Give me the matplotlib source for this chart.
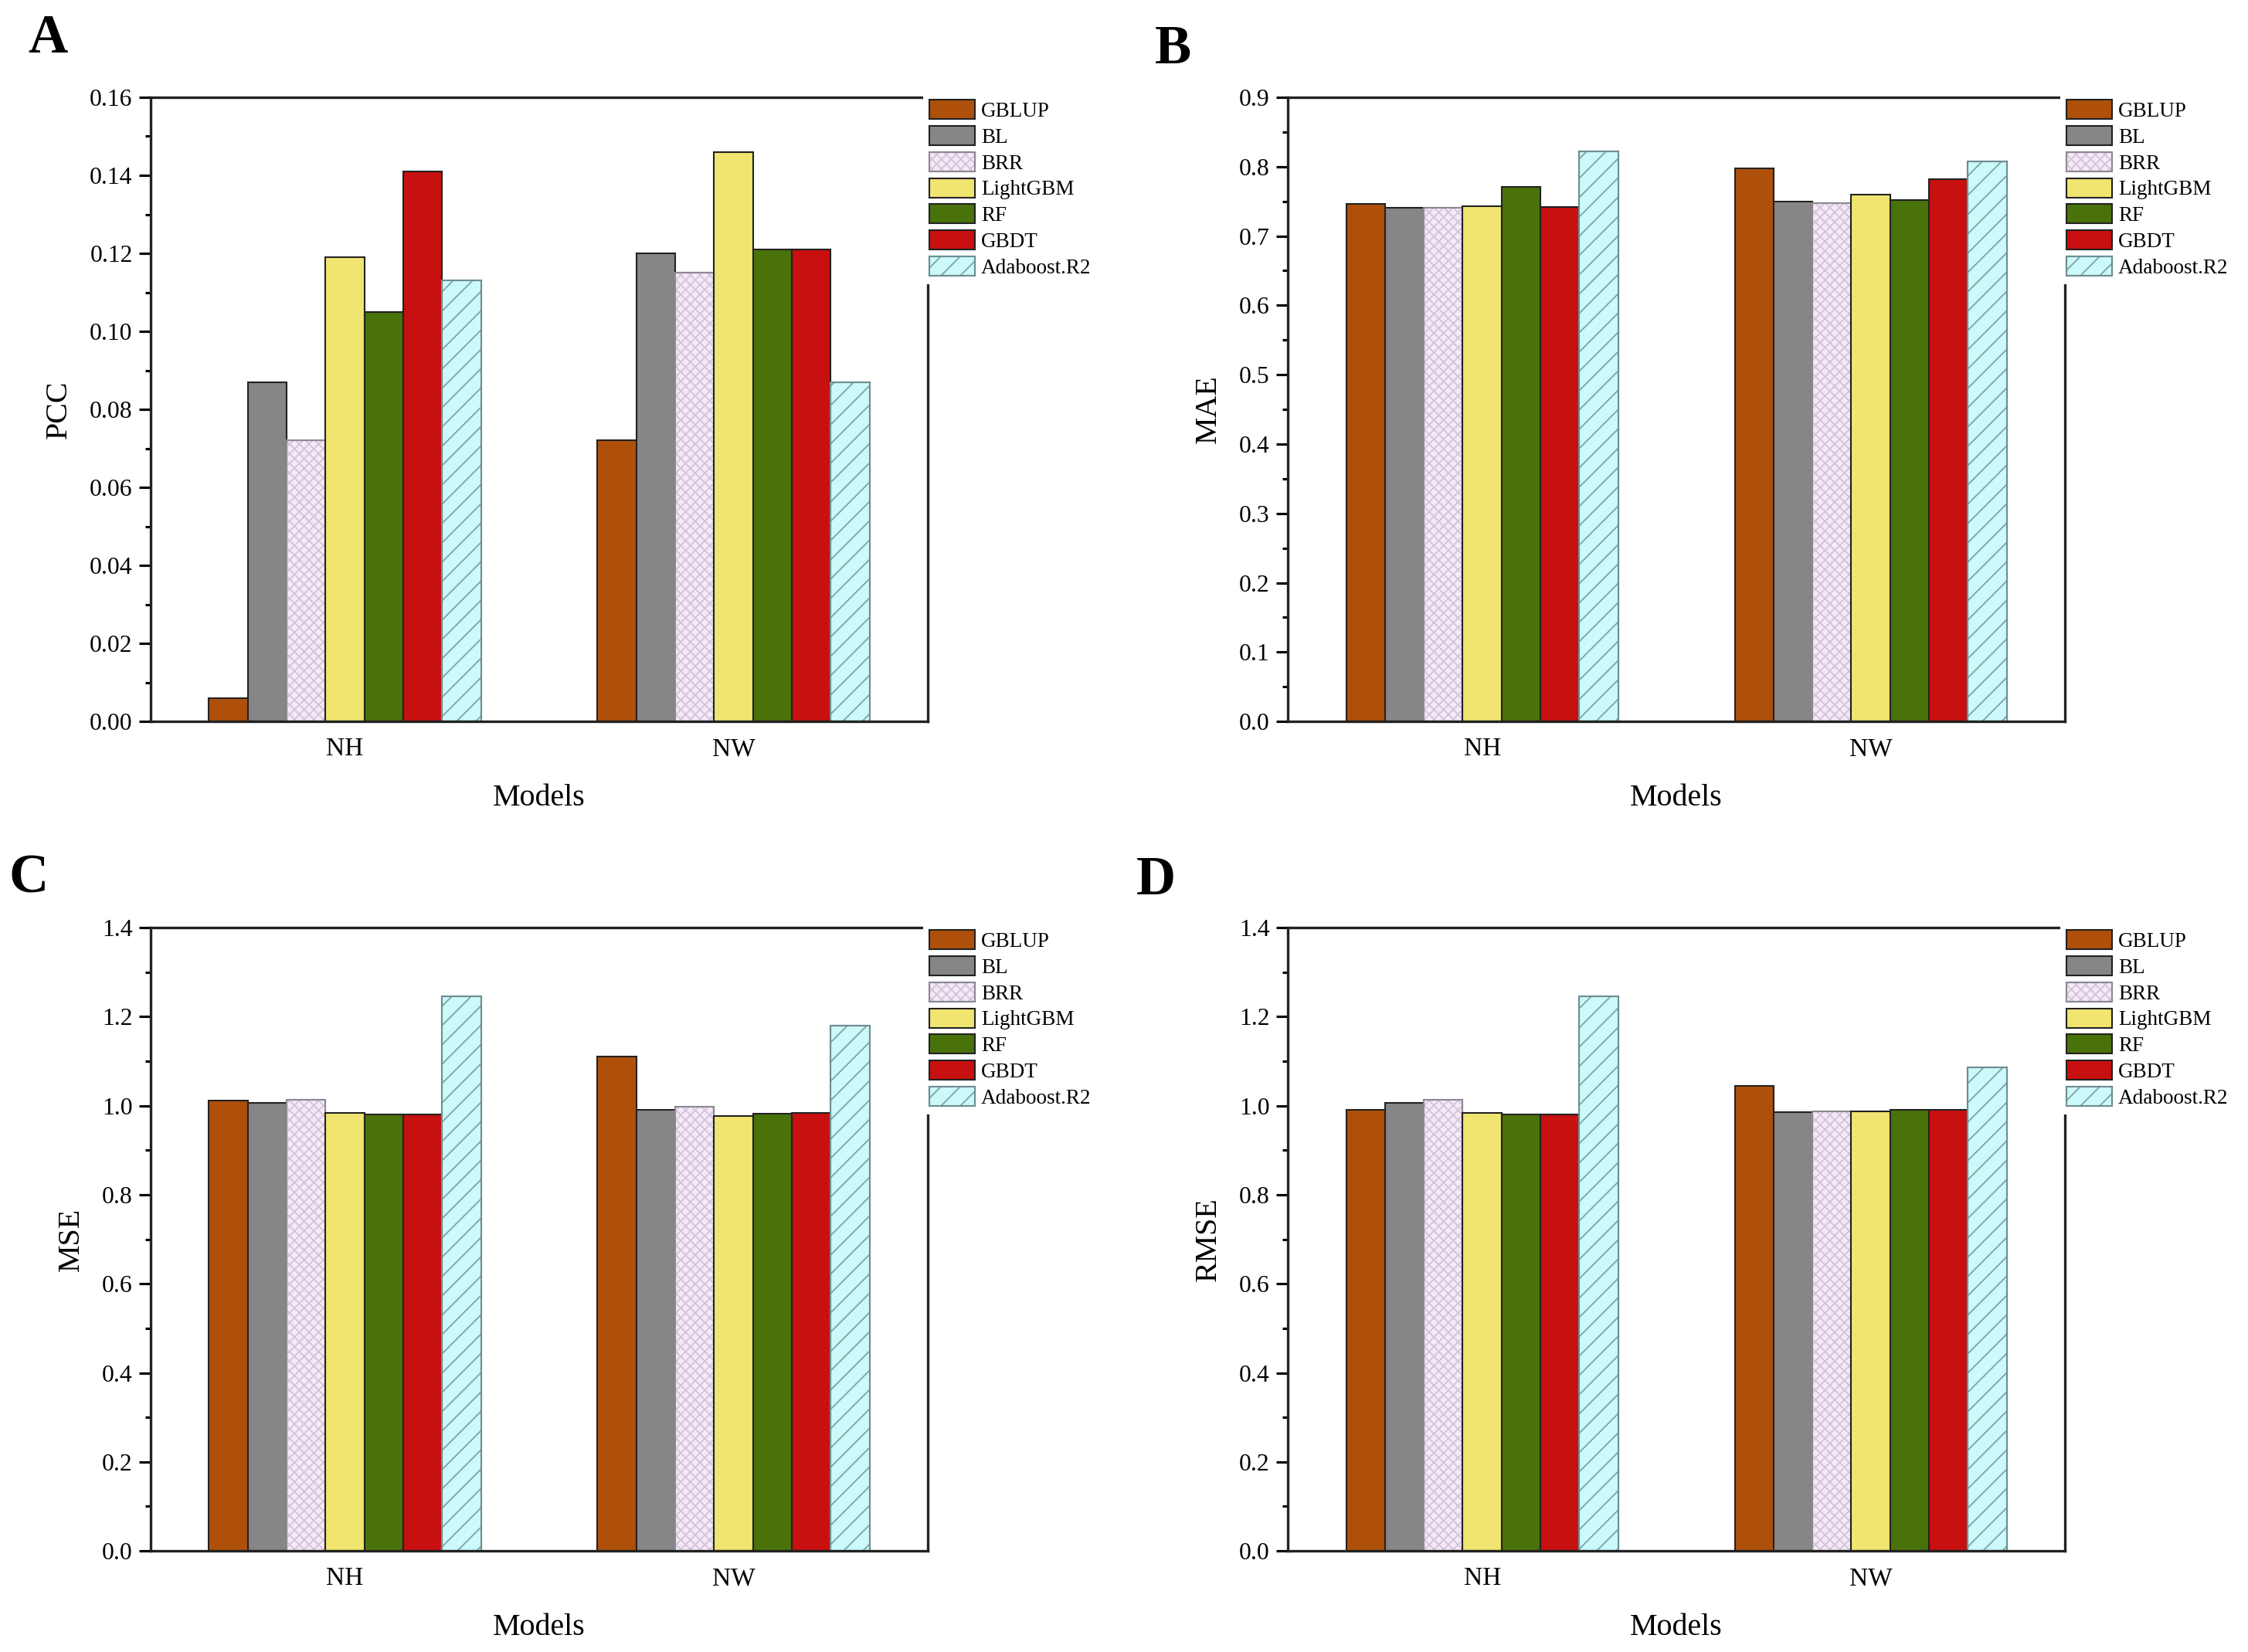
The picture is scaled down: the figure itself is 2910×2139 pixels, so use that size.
import numpy as np
import matplotlib
matplotlib.use('Agg')
import matplotlib.pyplot as plt
from matplotlib.patches import Patch
from matplotlib.legend_handler import HandlerTuple
from matplotlib.ticker import AutoMinorLocator

plt.rcParams['font.family'] = ['Liberation Serif', 'DejaVu Serif']
plt.rcParams['hatch.linewidth'] = 0.45

groups = ['NH', 'NW']
models = ['GBLUP', 'BL', 'BRR', 'LightGBM', 'RF', 'GBDT', 'Adaboost.R2']

# values per model: [NH, NW]
pcc = {
    'GBLUP': [0.006, 0.072], 'BL': [0.087, 0.120], 'BRR': [0.072, 0.115],
    'LightGBM': [0.119, 0.146], 'RF': [0.105, 0.121], 'GBDT': [0.141, 0.121],
    'Adaboost.R2': [0.113, 0.087],
}
mae = {
    'GBLUP': [0.746, 0.798], 'BL': [0.741, 0.750], 'BRR': [0.741, 0.747],
    'LightGBM': [0.743, 0.760], 'RF': [0.771, 0.752], 'GBDT': [0.742, 0.782],
    'Adaboost.R2': [0.822, 0.808],
}
mse = {
    'GBLUP': [1.012, 1.111], 'BL': [1.007, 0.991], 'BRR': [1.013, 0.998],
    'LightGBM': [0.984, 0.977], 'RF': [0.981, 0.982], 'GBDT': [0.981, 0.983],
    'Adaboost.R2': [1.245, 1.180],
}
rmse = {
    'GBLUP': [0.990, 1.044], 'BL': [1.007, 0.986], 'BRR': [1.014, 0.988],
    'LightGBM': [0.984, 0.988], 'RF': [0.981, 0.990], 'GBDT': [0.981, 0.990],
    'Adaboost.R2': [1.245, 1.086],
}

# face, edge, hatch, hatch colour
styles = {
    'GBLUP': ('#AE500A', '#222222', None, None),
    'BL': ('#868686', '#222222', None, None),
    'BRR': ('#F5E9F7', '#8E8894', 'xxxxxxxx', '#D3C4D9'),
    'LightGBM': ('#F0E570', '#222222', None, None),
    'RF': ('#4A720A', '#222222', None, None),
    'GBDT': ('#C81010', '#222222', None, None),
    'Adaboost.R2': ('#CCF9F9', '#6E8E92', '////', '#7FA6AA'),
}

panels = [
    ('A', pcc, 'PCC', 0.16, 0.02, '{:.2f}', [0.067, 0.5633, 0.3457, 0.3778], (62, 50)),
    ('B', mae, 'MAE', 0.9, 0.1, '{:.1f}', [0.5729, 0.5633, 0.3457, 0.3778], (1518, 65)),
    ('C', mse, 'MSE', 1.4, 0.2, '{:.1f}', [0.067, 0.0612, 0.3457, 0.3773], (37, 1138)),
    ('D', rmse, 'RMSE', 1.4, 0.2, '{:.1f}', [0.5729, 0.0612, 0.3457, 0.3773], (1496, 1141)),
]

W, H = 2910, 2139
fig = plt.figure(figsize=(W / 300, H / 300), dpi=300)

x = np.arange(1, len(groups) + 1)
width = 0.1

for letter, data, ylabel, ymax, step, fmt, rect, lpos in panels:
    ax = fig.add_axes(rect)
    handles = []
    for i, m in enumerate(models):
        face, edge, hatch, hcol = styles[m]
        offset = (i - (len(models) - 1) / 2) * width
        ax.bar(x + offset, data[m], width, color=face, edgecolor=edge, linewidth=0.5)
        if hatch:
            ax.bar(x + offset, data[m], width, facecolor='none', edgecolor=hcol,
                   hatch=hatch, linewidth=0)
            ax.bar(x + offset, data[m], width, facecolor='none', edgecolor=edge,
                   linewidth=0.5)
            handles.append((Patch(facecolor=face, edgecolor=edge, linewidth=0.5),
                            Patch(facecolor='none', edgecolor=hcol, hatch=hatch, linewidth=0),
                            Patch(facecolor='none', edgecolor=edge, linewidth=0.5)))
        else:
            handles.append(Patch(facecolor=face, edgecolor=edge, linewidth=0.5))

    ax.set_xlim(0.5, 2.5)
    ax.set_ylim(0, ymax)
    ax.set_xticks(x)
    ax.set_xticklabels(groups, fontsize=8)
    ticks = np.arange(0, ymax + step / 2, step)
    ax.set_yticks(ticks)
    ax.set_yticklabels([fmt.format(v) for v in ticks], fontsize=7.6)
    ax.yaxis.set_minor_locator(AutoMinorLocator(2))
    ax.tick_params(axis='x', length=0, pad=5)
    ax.tick_params(axis='y', which='major', direction='out', length=3.6, width=0.75, pad=2)
    ax.tick_params(axis='y', which='minor', direction='out', length=1.8, width=0.75)
    for sp in ax.spines.values():
        sp.set_linewidth(0.8)
        sp.set_color('#222222')

    ax.set_xlabel('Models', fontsize=9.6, labelpad=7)
    ax.set_ylabel(ylabel, fontsize=9.6, labelpad=5)

    leg = ax.legend(handles, models, loc='upper left', bbox_to_anchor=(0.994, 1.006),
                    borderaxespad=0, borderpad=0.3, fontsize=6.5, handlelength=2.17,
                    handleheight=1.05, labelspacing=0.22, handletextpad=0.3,
                    frameon=True, fancybox=False,
                    handler_map={tuple: HandlerTuple(ndivide=1, pad=0)})
    leg.get_frame().set_edgecolor('none')
    leg.get_frame().set_facecolor('white')
    leg.get_frame().set_alpha(1.0)

    fig.text(lpos[0] / W, 1 - lpos[1] / H, letter, fontsize=17, fontweight='bold',
             ha='center', va='center')

fig.savefig('out.png', dpi=300)
plt.close()
